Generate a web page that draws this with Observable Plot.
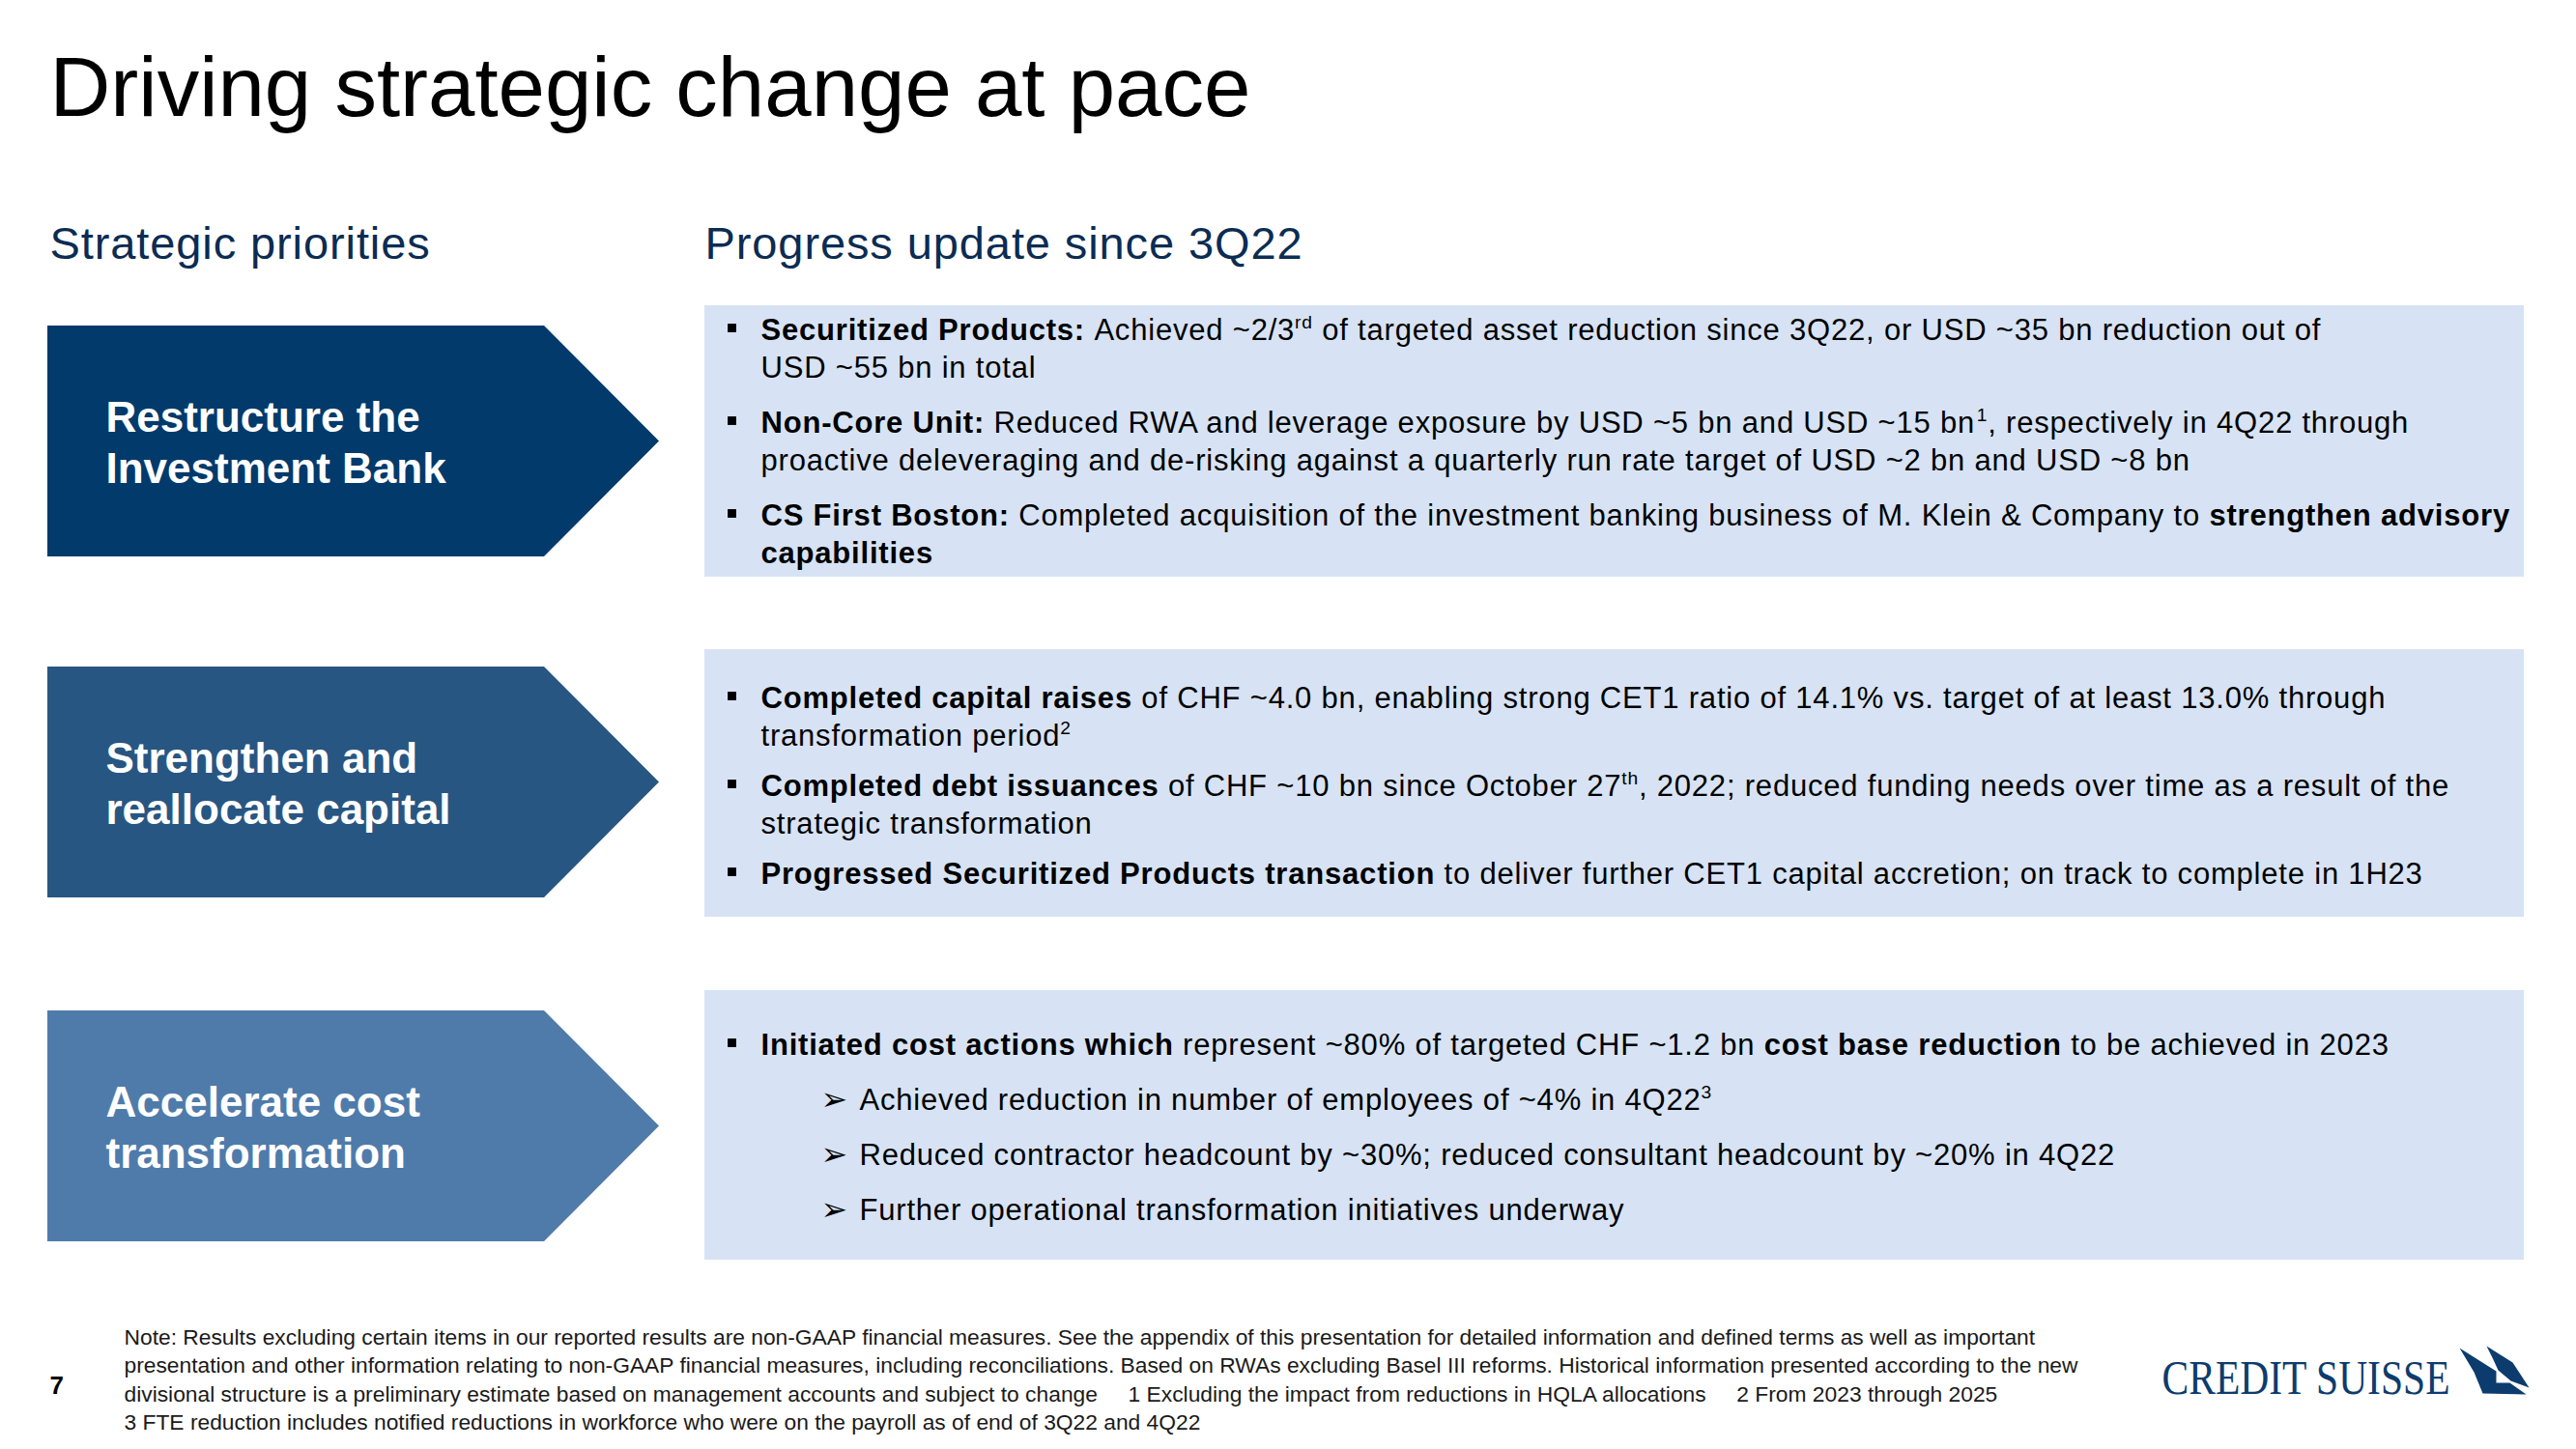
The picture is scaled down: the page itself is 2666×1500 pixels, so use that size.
<!DOCTYPE html>
<html>
<head>
<meta charset="utf-8">
<script src="https://cdn.jsdelivr.net/npm/d3@7"></script>
<script src="https://cdn.jsdelivr.net/npm/@observablehq/plot@0.6"></script>
<style>
  html, body { margin: 0; padding: 0; background: #ffffff; }
  #chart svg { display: block; }
</style>
</head>
<body>
<div id="chart"></div>
<script>
// ===================== DATA (content only) =====================
const slideTitle = "Driving strategic change at pace";
const columnHeads = ["Strategic priorities", "Progress update since 3Q22"];
const priorities = [
  ["Restructure the", "Investment Bank"],
  ["Strengthen and", "reallocate capital"],
  ["Accelerate cost", "transformation"]
];
// level 1 = main bullet, 2 = sub-bullet, 0 = wrapped continuation line
// **bold**, ^superscript^
const progressIB = [
  [1, "**Securitized Products:** Achieved ~2/3^rd^ of targeted asset reduction since 3Q22, or USD ~35 bn reduction out of"],
  [0, "USD ~55 bn in total"],
  [1, "**Non-Core Unit:** Reduced RWA and leverage exposure by USD ~5 bn and USD ~15 bn^1^, respectively in 4Q22 through"],
  [0, "proactive deleveraging and de-risking against a quarterly run rate target of USD ~2 bn and USD ~8 bn"],
  [1, "**CS First Boston:** Completed acquisition of the investment banking business of M. Klein & Company to **strengthen advisory**"],
  [0, "**capabilities**"]
];
const progressCapital = [
  [1, "**Completed capital raises** of CHF ~4.0 bn, enabling strong CET1 ratio of 14.1% vs. target of at least 13.0% through"],
  [0, "transformation period^2^"],
  [1, "**Completed debt issuances** of CHF ~10 bn since October 27^th^, 2022; reduced funding needs over time as a result of the"],
  [0, "strategic transformation"],
  [1, "**Progressed Securitized Products transaction** to deliver further CET1 capital accretion; on track to complete in 1H23"]
];
const progressCost = [
  [1, "**Initiated cost actions which** represent ~80% of targeted CHF ~1.2 bn **cost base reduction** to be achieved in 2023"],
  [2, "Achieved reduction in number of employees of ~4% in 4Q22^3^"],
  [2, "Reduced contractor headcount by ~30%; reduced consultant headcount by ~20% in 4Q22"],
  [2, "Further operational transformation initiatives underway"]
];
const progress = [progressIB, progressCapital, progressCost];
const pageNumber = "7";
const footnoteLines = [
  "Note: Results excluding certain items in our reported results are non-GAAP financial measures. See the appendix of this presentation for detailed information and defined terms as well as important",
  "presentation and other information relating to non-GAAP financial measures, including reconciliations. Based on RWAs excluding Basel III reforms. Historical information presented according to the new",
  "divisional structure is a preliminary estimate based on management accounts and subject to change\u00a0\u00a0\u00a0\u00a0\u00a01 Excluding the impact from reductions in HQLA allocations\u00a0\u00a0\u00a0\u00a0\u00a02 From 2023 through 2025",
  "3 FTE reduction includes notified reductions in workforce who were on the payroll as of end of 3Q22 and 4Q22"
];
const logoText = "CREDIT SUISSE";

// ===================== LAYOUT & STYLE =====================
const W = 2666, H = 1500;
const FONT = '"Liberation Sans", Arial, Helvetica, sans-serif';
const STYLE = {
  title: {x: 51, y: 119, size: 87, color: "#000000"},
  heads: {xs: [51, 729], y: 267, size: 47, color: "#0b2c53"},
  arrow: {x0: 49, x1: 563, tip: 682, tops: [337, 690, 1046], height: 239,
          labelX: 109, labelSize: 44, labelGap: 53, labelShift: -10,
          fills: ["#023a6b", "#285682", "#4f7bab"]},
  box: {x1: 729, x2: 2612, tops: [316, 672, 1025], bottoms: [597, 949, 1304], fill: "#d7e3f4"},
  body: {size: 31, color: "#000000", bulletX: 757, bulletR: 5, bulletDy: -12,
         textX: 787, subBulletX: 849, subTextX: 889, subBulletSize: 33, lineGap: 39,
         firsts: [351, 732, 1091], paraGaps: [57, 52, 57]},
  foot: {x: 128, y: 1391, gap: 29.5, size: 22.8, color: "#1a1a1a",
         pageX: 51, pageY: 1442, pageSize: 26},
  logo: {x: 2237, y: 1442, size: 50, width: 298, color: "#0c3c6e"},
  // extra tracking (px) per text kind
  tracking: {title: 0, head: 0.9, label: 0, body: 0.8, foot: 0, page: 0}
};
// Logo sail outline (decorative brand shape, page pixels)
const logoSails = [
  {sail: "a", pts: [[2545,1395],[2583,1419],[2583,1431],[2597,1431],[2614,1443],[2569,1442],[2560,1420]]},
  {sail: "b", pts: [[2573,1393],[2600,1410],[2617,1436],[2598,1429],[2585,1418],[2579,1405]]}
];

// ===================== TEXT LAYOUT HELPERS =====================
const ctx = document.createElement("canvas").getContext("2d");
function measure(text, size, bold, ls) {
  ctx.font = `${bold ? "bold " : ""}${size}px ${FONT}`;
  return ctx.measureText(text).width + (ls || 0) * [...text].length;
}
function parseRuns(s) {
  const runs = []; let bold = false, sup = false, buf = "";
  for (let i = 0; i < s.length; i++) {
    if (s.startsWith("**", i)) { if (buf) runs.push({t: buf, bold, sup}); buf = ""; bold = !bold; i++; continue; }
    if (s[i] === "^") { if (buf) runs.push({t: buf, bold, sup}); buf = ""; sup = !sup; continue; }
    buf += s[i];
  }
  if (buf) runs.push({t: buf, bold, sup});
  return runs;
}
function layoutLine(s, x0, baseline, size, out, color, kind) {
  const ls = STYLE.tracking[kind] || 0;
  let x = x0;
  for (const r of parseRuns(s)) {
    const sz = r.sup ? size * 0.62 : size;
    const lead = r.t.match(/^\s*/)[0];
    x += measure(lead, sz, r.bold, ls);
    const txt = r.t.slice(lead.length);
    if (txt.length) {
      out.push({text: txt, x, y: baseline - (r.sup ? size * 0.36 : 0), size: sz, bold: r.bold, color, kind});
    }
    x += measure(txt, sz, r.bold, ls);
  }
}

// Build drawable tables from data + layout
const runs = [];       // text runs
const bullets = [];    // square bullets
const subBullets = []; // arrow bullets
const boxes = [];
const arrowPts = [];
const B = STYLE.body;

progress.forEach((items, row) => {
  boxes.push({row, x1: STYLE.box.x1, x2: STYLE.box.x2, y1: STYLE.box.tops[row], y2: STYLE.box.bottoms[row]});
  let y = B.firsts[row];
  items.forEach(([level, s], i) => {
    if (i > 0) y += level === 0 ? B.lineGap : B.paraGaps[row];
    if (level === 1) {
      bullets.push({x: B.bulletX, y: y + B.bulletDy});
      layoutLine(s, B.textX, y, B.size, runs, B.color, "body");
    } else if (level === 2) {
      subBullets.push({x: B.subBulletX, y, text: "\u27A2"});
      layoutLine(s, B.subTextX, y, B.size, runs, B.color, "body");
    } else {
      layoutLine(s, B.textX, y, B.size, runs, B.color, "body");
    }
  });
});

priorities.forEach((lines, row) => {
  const A = STYLE.arrow;
  const top = A.tops[row], bottom = top + A.height, mid = (top + bottom) / 2;
  arrowPts.push({row, x: A.x0, y1: top, y2: bottom});
  arrowPts.push({row, x: A.x1, y1: top, y2: bottom});
  arrowPts.push({row, x: A.tip, y1: mid, y2: mid});
  lines.forEach((l, j) => {
    layoutLine("**" + l + "**", A.labelX, mid + A.labelShift + j * A.labelGap, A.labelSize, runs, "#ffffff", "label");
  });
});

// Title and column heads
runs.push({text: slideTitle, x: STYLE.title.x, y: STYLE.title.y, size: STYLE.title.size, bold: false, color: STYLE.title.color, kind: "title"});
columnHeads.forEach((h, i) => runs.push({text: h, x: STYLE.heads.xs[i], y: STYLE.heads.y, size: STYLE.heads.size, bold: false, color: STYLE.heads.color, kind: "head"}));

// Footer
footnoteLines.forEach((l, i) => runs.push({text: l, x: STYLE.foot.x, y: STYLE.foot.y + i * STYLE.foot.gap, size: STYLE.foot.size, bold: false, color: STYLE.foot.color, kind: "foot"}));
runs.push({text: pageNumber, x: STYLE.foot.pageX, y: STYLE.foot.pageY, size: STYLE.foot.pageSize, bold: true, color: "#000000", kind: "page"});

const sailPts = logoSails.flatMap(s => s.pts.map(([x, y]) => ({sail: s.sail, x, y})));

const textMarks = [false, true].map(bold =>
  Plot.text(runs.filter(d => d.bold === bold), {
    x: "x", y: "y", text: "text", fontSize: "size", fill: "color",
    fontWeight: bold ? "bold" : "normal", textAnchor: "start", lineAnchor: "bottom"
  })
);

// ===================== PLOT =====================
const chart = Plot.plot({
  width: W,
  height: H,
  margin: 0,
  x: {domain: [0, W], range: [0, W], axis: null},
  y: {domain: [0, H], range: [0, H], axis: null},
  color: {type: "identity"},
  style: {fontFamily: FONT, background: "#ffffff"},
  marks: [
    Plot.rect(boxes, {x1: "x1", x2: "x2", y1: "y1", y2: "y2", fill: STYLE.box.fill}),
    ...priorities.map((_, row) =>
      Plot.areaY(arrowPts.filter(d => d.row === row), {x: "x", y1: "y1", y2: "y2", fill: STYLE.arrow.fills[row], curve: "linear"})
    ),
    Plot.dot(bullets, {x: "x", y: "y", symbol: "square", r: B.bulletR, fill: B.color, stroke: "none"}),
    Plot.text(subBullets, {x: "x", y: "y", text: "text", fontSize: B.subBulletSize, fontFamily: "DejaVu Sans", fill: B.color, textAnchor: "start", lineAnchor: "bottom"}),
    ...textMarks,
    Plot.line(sailPts, {x: "x", y: "y", z: "sail", fill: STYLE.logo.color, stroke: "none", curve: "linear-closed"}),
    Plot.text([logoText], {x: () => STYLE.logo.x, y: () => STYLE.logo.y, text: d => d, fontFamily: '"Liberation Serif", "DejaVu Serif", serif', fontSize: STYLE.logo.size, fill: STYLE.logo.color, textAnchor: "start", lineAnchor: "bottom"})
  ]
});

// Apply tracking per text kind (looked up by the run's text)
const kindOf = new Map(runs.map(d => [d.text, d.kind]));
chart.querySelectorAll("text").forEach(t => {
  const kind = kindOf.get(t.textContent);
  const ls = kind ? STYLE.tracking[kind] : 0;
  if (ls) t.setAttribute("letter-spacing", ls);
  if (t.textContent === logoText) {
    t.setAttribute("textLength", STYLE.logo.width);
    t.setAttribute("lengthAdjust", "spacingAndGlyphs");
  }
});

document.getElementById("chart").appendChild(chart);
</script>
</body>
</html>
